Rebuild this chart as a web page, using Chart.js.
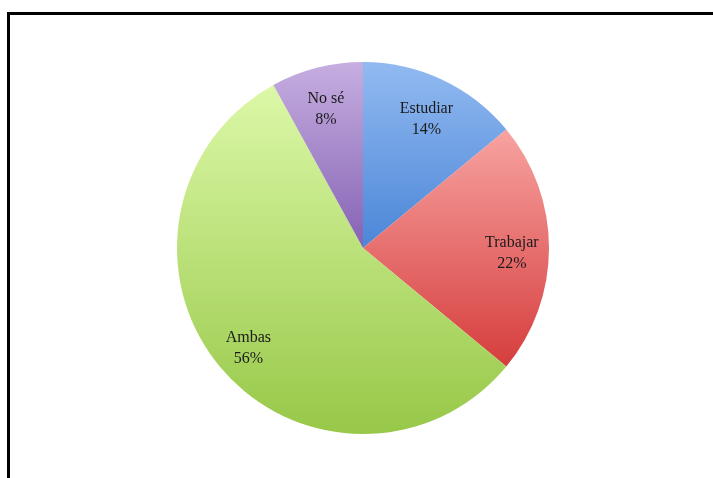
<!DOCTYPE html>
<html>
<head>
<meta charset="utf-8">
<script src="https://cdn.jsdelivr.net/npm/chart.js@4.4.1/dist/chart.umd.min.js"></script>
<style>
  body { margin: 0; background: #fff; overflow: hidden; }
  #wrap { position: relative; width: 713px; height: 478px; }
  #frame { position: absolute; left: 7px; top: 12px; width: 800px; height: 600px; border: 3px solid #000; }
  #wrap canvas { position: absolute; left: 0; top: 0; }
</style>
</head>
<body>
<div id="wrap">
  <div id="frame"></div>
  <canvas id="pieChart" width="713" height="478"></canvas>
</div>
<script>
const categories = ['Estudiar', 'Trabajar', 'Ambas', 'No sé'];
const percentages = [14, 22, 56, 8];
// light (top) and dark (bottom) shade for each slice
const lightColors = ['#92baf1', '#f7a3a1', '#dcf8a8', '#c6aee0'];
const darkColors = ['#4b86d7', '#d63d3d', '#97c848', '#8562b4'];

// gives every slice its own top-to-bottom gradient
const sliceGradients = {
  id: 'sliceGradients',
  beforeDatasetsDraw(chart) {
    const ctx = chart.ctx;
    const meta = chart.getDatasetMeta(0);
    meta.data.forEach((arc, i) => {
      const { x, y, startAngle, endAngle, outerRadius } = arc.getProps(['x', 'y', 'startAngle', 'endAngle', 'outerRadius']);
      let top = y, bottom = y;
      for (let k = 0; k <= 40; k++) {
        const a = startAngle + (endAngle - startAngle) * k / 40;
        const py = y + Math.sin(a) * outerRadius;
        top = Math.min(top, py);
        bottom = Math.max(bottom, py);
      }
      const g = ctx.createLinearGradient(0, top, 0, bottom);
      g.addColorStop(0, lightColors[i]);
      g.addColorStop(1, darkColors[i]);
      arc.options.backgroundColor = g;
    });
  }
};

// name + percentage inside each slice
const sliceLabels = {
  id: 'sliceLabels',
  afterDatasetsDraw(chart) {
    const ctx = chart.ctx;
    const meta = chart.getDatasetMeta(0);
    ctx.save();
    ctx.font = '16px "Liberation Serif", "DejaVu Serif", serif';
    ctx.fillStyle = '#1a1a1a';
    ctx.textAlign = 'center';
    ctx.textBaseline = 'middle';
    meta.data.forEach((arc, i) => {
      const { x, y, startAngle, endAngle, outerRadius } = arc.getProps(['x', 'y', 'startAngle', 'endAngle', 'outerRadius']);
      const mid = (startAngle + endAngle) / 2;
      const r = outerRadius * 0.8;
      const lx = x + Math.cos(mid) * r;
      const ly = y + Math.sin(mid) * r + 5;
      ctx.fillText(categories[i], lx, ly - 10);
      ctx.fillText(percentages[i] + '%', lx, ly + 11);
    });
    ctx.restore();
  }
};

new Chart(document.getElementById('pieChart'), {
  type: 'pie',
  data: {
    labels: categories,
    datasets: [{
      data: percentages,
      backgroundColor: darkColors,
      borderWidth: 0
    }]
  },
  options: {
    responsive: false,
    animation: false,
    layout: { padding: { left: 13, right: 0, top: 62, bottom: 44 } },
    plugins: {
      legend: { display: false },
      tooltip: { enabled: false }
    }
  },
  plugins: [sliceGradients, sliceLabels]
});
</script>
</body>
</html>
